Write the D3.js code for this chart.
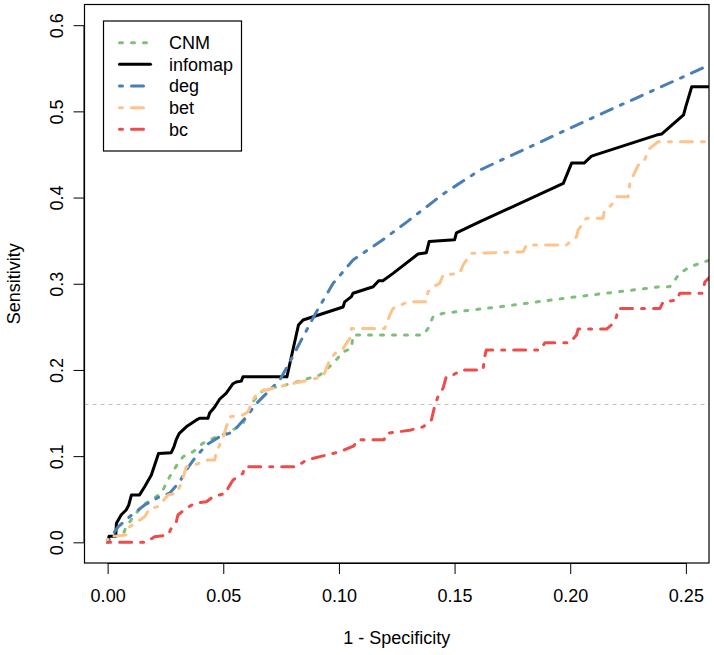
<!DOCTYPE html>
<html><head><meta charset="utf-8">
<script src="https://cdn.jsdelivr.net/npm/d3@7"></script>
<style>
body{margin:0;background:#fff;}
svg{display:block;font-family:"Liberation Sans",Arial,Helvetica,sans-serif;}
</style></head>
<body><svg id="c" width="714" height="655"></svg>
<script>
// ---- data ----
const seriesNames = ["CNM","infomap","deg","bet","bc"];
const seriesColors = ["#7FBF7B","#000000","#4A7FB5","#FDC38A","#EE4B4B"];
const seriesDash = ["3 9", null, "3 9 12 9", "3 9 12 9", "3 9 12 9"];
const xTicks = [0,0.05,0.10,0.15,0.20,0.25];
const yTicks = [0,0.1,0.2,0.3,0.4,0.5,0.6];
const cutoff = 0.16;

const cnm = [[0,0],[0,0.0065],[0.0066,0.0085],[0.008,0.018],[0.0117,0.0317],[0.0153,0.0433],[0.0189,0.049],[0.0232,0.057],[0.0268,0.076],[0.0304,0.0916],[0.0326,0.0993],[0.0369,0.105],[0.0412,0.115],[0.047,0.1225],[0.0528,0.128],[0.0585,0.138],[0.0614,0.1535],[0.0628,0.163],[0.0657,0.173],[0.0686,0.1787],[0.0744,0.1805],[0.0816,0.186],[0.0917,0.194],[0.0975,0.2075],[0.1018,0.221],[0.1054,0.225],[0.1061,0.2405],[0.1364,0.2405],[0.1385,0.248],[0.1407,0.2617],[0.145,0.2657],[0.1696,0.2733],[0.20,0.284],[0.2388,0.2965],[0.243,0.2965],[0.2474,0.312],[0.2517,0.3197],[0.262,0.329]];
const infomap = [[0,0],[0.0006,0.007],[0.0035,0.007],[0.0038,0.022],[0.0059,0.032],[0.008,0.0375],[0.0091,0.043],[0.0103,0.055],[0.0138,0.055],[0.016,0.0645],[0.0189,0.078],[0.022,0.103],[0.0275,0.104],[0.0287,0.111],[0.0297,0.1195],[0.031,0.1265],[0.034,0.134],[0.0384,0.142],[0.0398,0.144],[0.0434,0.144],[0.0441,0.150],[0.0463,0.157],[0.0484,0.166],[0.0513,0.173],[0.0542,0.184],[0.0556,0.186],[0.0578,0.187],[0.0585,0.192],[0.0775,0.192],[0.080,0.222],[0.0825,0.252],[0.0845,0.258],[0.1018,0.273],[0.1025,0.279],[0.1054,0.285],[0.1061,0.289],[0.1148,0.2965],[0.1172,0.3035],[0.119,0.3035],[0.1234,0.312],[0.1342,0.3345],[0.1378,0.336],[0.139,0.349],[0.150,0.351],[0.1508,0.359],[0.161,0.372],[0.197,0.4165],[0.2006,0.44],[0.206,0.44],[0.2092,0.448],[0.2373,0.4725],[0.2395,0.4737],[0.249,0.496],[0.2499,0.505],[0.2517,0.521],[0.2525,0.5285],[0.262,0.5285]];
const deg = [[0,0],[0.002,0.008],[0.0045,0.018],[0.0095,0.0297],[0.016,0.0433],[0.0225,0.053],[0.0268,0.057],[0.0311,0.070],[0.034,0.084],[0.0376,0.0975],[0.0427,0.113],[0.0484,0.1225],[0.0542,0.128],[0.06,0.1457],[0.0643,0.161],[0.0715,0.1805],[0.0744,0.188],[0.0785,0.208],[0.083,0.231],[0.0903,0.2675],[0.0975,0.3005],[0.1061,0.3275],[0.119,0.351],[0.13,0.373],[0.145,0.404],[0.161,0.432],[0.21,0.493],[0.262,0.556]];
const bet = [[0,0],[0,0.0065],[0.008,0.0085],[0.0095,0.018],[0.0117,0.022],[0.016,0.0297],[0.0182,0.0394],[0.0218,0.0413],[0.0261,0.0549],[0.0297,0.0568],[0.0319,0.0684],[0.034,0.0877],[0.0376,0.0897],[0.0434,0.0955],[0.0463,0.0955],[0.047,0.105],[0.0498,0.1207],[0.0513,0.134],[0.0528,0.1457],[0.0585,0.1477],[0.0607,0.1515],[0.0628,0.165],[0.065,0.1747],[0.0686,0.1767],[0.0715,0.1787],[0.0773,0.1825],[0.083,0.186],[0.0931,0.192],[0.096,0.2115],[0.0982,0.219],[0.1018,0.225],[0.1047,0.2367],[0.1054,0.248],[0.1198,0.248],[0.122,0.2637],[0.1234,0.2714],[0.1299,0.279],[0.1378,0.279],[0.1385,0.2907],[0.1407,0.2965],[0.1436,0.3005],[0.145,0.310],[0.1522,0.312],[0.1537,0.3217],[0.1551,0.3275],[0.1573,0.3353],[0.1796,0.337],[0.1811,0.345],[0.1984,0.345],[0.2027,0.3545],[0.2034,0.3623],[0.207,0.376],[0.2142,0.376],[0.2148,0.3855],[0.2178,0.391],[0.22,0.401],[0.225,0.401],[0.2258,0.4165],[0.228,0.43],[0.2294,0.4377],[0.2315,0.44],[0.2344,0.457],[0.238,0.4647],[0.262,0.4647]];
const bc = [[0,0],[0.0167,0],[0.0203,0.0065],[0.0261,0.0085],[0.0275,0.0162],[0.0297,0.024],[0.0304,0.0317],[0.034,0.0394],[0.0376,0.0452],[0.0427,0.047],[0.0456,0.053],[0.0513,0.057],[0.052,0.0626],[0.0542,0.0723],[0.0585,0.080],[0.0592,0.0877],[0.0816,0.0877],[0.086,0.0955],[0.1003,0.105],[0.1065,0.112],[0.108,0.119],[0.1195,0.119],[0.1205,0.1265],[0.1249,0.128],[0.1306,0.130],[0.1364,0.134],[0.14,0.142],[0.1413,0.157],[0.1428,0.169],[0.145,0.1787],[0.1464,0.192],[0.1493,0.194],[0.1529,0.20],[0.1623,0.20],[0.163,0.2153],[0.1637,0.223],[0.1869,0.223],[0.1891,0.2316],[0.1999,0.2316],[0.2027,0.2405],[0.2034,0.2474],[0.2157,0.2474],[0.2186,0.254],[0.22,0.2617],[0.2207,0.2714],[0.2388,0.2714],[0.2402,0.279],[0.246,0.281],[0.2474,0.289],[0.257,0.289],[0.2582,0.302],[0.262,0.312]];
const seriesData = [cnm, infomap, deg, bet, bc];

// ---- layout ----
const L = 84.5, R = 709, T = 4.5, B = 563;
const svg = d3.select("#c");
const x = d3.scaleLinear().domain([-0.01, 0.26]).range([L, R]);
const y = d3.scaleLinear().domain([-0.024, 0.624]).range([B, T]);

svg.append("defs").append("clipPath").attr("id","clip")
  .append("rect").attr("x",L).attr("y",T).attr("width",R-L).attr("height",B-T);

// cutoff line
svg.append("line").attr("x1",L).attr("x2",R).attr("y1",y(cutoff)).attr("y2",y(cutoff))
  .attr("stroke","#BEBEBE").attr("stroke-width",1).attr("stroke-dasharray","4 4");

const line = d3.line().x(d=>x(d[0])).y(d=>y(d[1]));
const g = svg.append("g").attr("clip-path","url(#clip)");
seriesData.forEach((d,i)=>{
  g.append("path").attr("d",line(d)).attr("fill","none")
    .attr("stroke",seriesColors[i]).attr("stroke-width",3)
    .attr("stroke-linecap","round").attr("stroke-linejoin","round")
    .attr("stroke-dasharray",seriesDash[i]);
});

// box
svg.append("rect").attr("x",L).attr("y",T).attr("width",R-L).attr("height",B-T)
  .attr("fill","none").attr("stroke","#000").attr("stroke-width",1.2);

// axes
const xAxis = d3.axisBottom(x).tickValues(xTicks).tickFormat(d3.format(".2f")).tickSize(11);
const gx = svg.append("g").attr("transform",`translate(0,${B})`).call(xAxis);
gx.select(".domain").attr("d",`M${x(0)},0.5H${x(0.25)}`);
gx.selectAll("text").attr("font-size",18).attr("font-family","Liberation Sans, Arial, sans-serif").attr("fill","#000")
  .attr("y",39).attr("dy",null);

const yAxis = d3.axisLeft(y).tickValues(yTicks).tickFormat(d3.format(".1f")).tickSize(11);
const gy = svg.append("g").attr("transform",`translate(${L},0)`).call(yAxis);
gy.select(".domain").attr("d",`M-0.5,${y(0)}V${y(0.6)}`);
gy.selectAll("text").attr("font-size",18).attr("font-family","Liberation Sans, Arial, sans-serif").attr("fill","#000")
  .attr("x",0).attr("y",0).attr("dy",null).attr("text-anchor","middle")
  .attr("transform","translate(-22,0) rotate(-90)");

// axis titles
svg.append("text").attr("x",(L+R)/2).attr("y",644).attr("text-anchor","middle")
  .attr("font-size",18).text("1 - Specificity");
svg.append("text").attr("transform",`translate(20,${(T+B)/2}) rotate(-90)`).attr("text-anchor","middle")
  .attr("font-size",18).text("Sensitivity");

// legend
const lg = svg.append("g");
lg.append("rect").attr("x",103.5).attr("y",21).attr("width",138).attr("height",130)
  .attr("fill","#fff").attr("stroke","#000").attr("stroke-width",1.2);
seriesNames.forEach((n,i)=>{
  const yy = 42.7 + i*21.65;
  lg.append("line").attr("x1",119.5).attr("x2",150.5).attr("y1",yy).attr("y2",yy)
    .attr("stroke",seriesColors[i]).attr("stroke-width",3).attr("stroke-linecap","round")
    .attr("stroke-dasharray",seriesDash[i]);
  lg.append("text").attr("x",169).attr("y",yy).attr("dy","0.35em").attr("font-size",18).text(n);
});
</script></body></html>
